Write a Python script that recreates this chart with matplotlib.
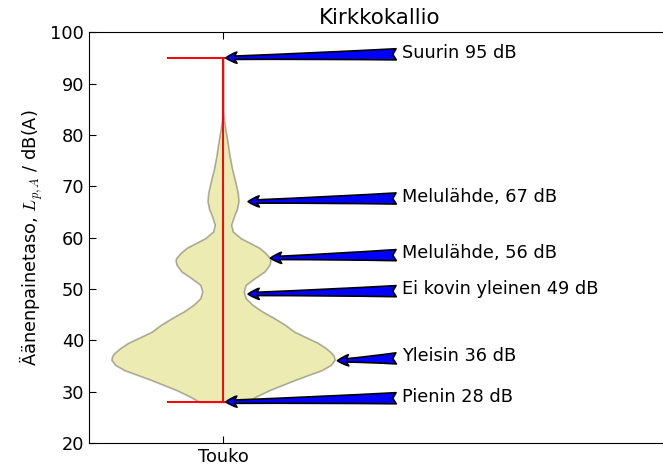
import matplotlib
matplotlib.use('Agg')
import matplotlib.pyplot as plt

# violin profile (dB level -> relative half width)
levels = [28, 29, 30.3, 32.3, 34.2, 35.2, 36.2, 37.0, 37.5, 38.5, 39.5, 40.5, 41.7, 43.0,
          44.3, 45.6, 46.9, 48.2, 49.5, 50.8, 52.1, 53.4, 54.7, 55.5, 56.0, 57.0, 58.0,
          59.0, 59.9, 61.2, 62.5, 63.5, 64.5, 65.5, 67.1, 68.7, 70.7, 73.3, 75.9, 78.5,
          81, 83, 85, 95]
density = [24, 33, 47, 73, 100, 109, 113, 112, 110, 104, 96, 85, 72, 63,
           52, 40, 30, 23, 21, 23, 32, 42, 47, 48, 47.5, 43, 37,
           27, 18, 10, 8.3, 10, 11.7, 14, 15.7, 15, 12.7, 9.3, 6.7, 4.7,
           2.5, 1, 0.3, 0]
lowest = 28
highest = 95
month = 'Touko'

# annotations
notes = ['Suurin 95 dB', 'Melulähde, 67 dB', 'Melulähde, 56 dB',
         'Ei kovin yleinen 49 dB', 'Yleisin 36 dB', 'Pienin 28 dB']
note_y = [95, 67, 56, 49, 36, 28]
note_x = [1.0, 1.05, 1.1, 1.05, 1.25, 1.0]

plt.rcParams['font.size'] = 12.8
plt.rcParams['mathtext.fontset'] = 'cm'
plt.rcParams['lines.linewidth'] = 1.2

fig = plt.figure(figsize=(6.63, 4.68), dpi=100)
ax = fig.add_axes([89 / 663, 25 / 468, 580.7 / 663, 410.7 / 468])

stats = [{'coords': levels, 'vals': density, 'mean': 40.0, 'median': 38.0,
          'min': lowest, 'max': highest}]
parts = ax.violin(stats, positions=[1], widths=0.5, showextrema=True)
for body in parts['bodies']:
    body.set_alpha(None)
    body.set_facecolor((0.75, 0.75, 0.0, 0.3))
    body.set_edgecolor((0.0, 0.0, 0.0, 0.3))
    body.set_linewidth(1.2)
for key in ['cmins', 'cmaxes', 'cbars']:
    parts[key].set_color('r')
    parts[key].set_linewidth(1.4)

for txt, x, y in zip(notes, note_x, note_y):
    ax.annotate(txt, xy=(x, y), xytext=(1.4, y),
                arrowprops=dict(arrowstyle='fancy', fc='blue', ec='black',
                                mutation_scale=20, lw=1.2))

ax.set_xlim(0.7, 2.0)
ax.set_ylim(20, 100)
ax.set_xticks([1])
ax.set_xticklabels([month])
ax.tick_params(direction='in', top=True, right=True, length=5)
ax.set_ylabel('Äänenpainetaso, $L_{p,A}$ / dB(A)')
ax.set_title('Kirkkokallio', fontsize='large')

fig.savefig('out.png', dpi=100, facecolor='white')
